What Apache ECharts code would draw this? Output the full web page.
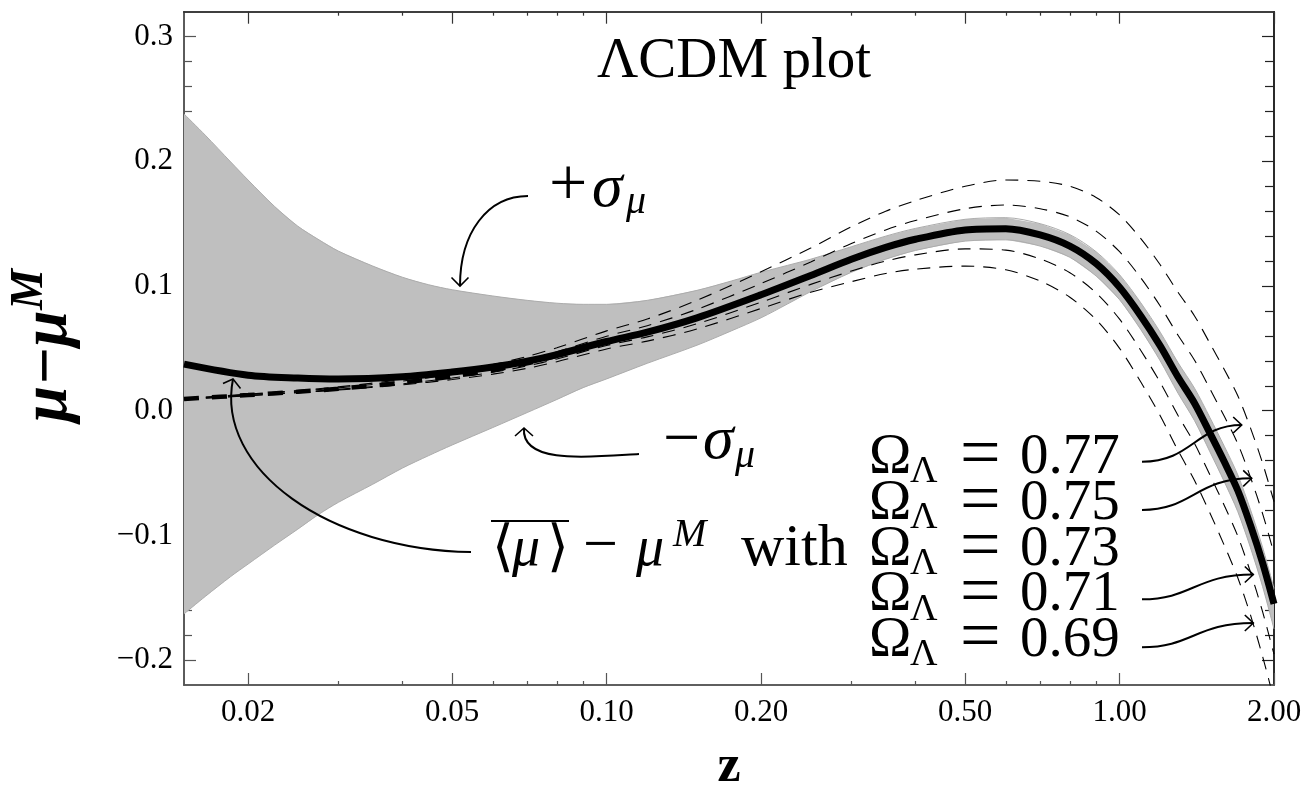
<!DOCTYPE html>
<html>
<head>
<meta charset="utf-8">
<title>LCDM plot</title>
<script src="https://cdn.jsdelivr.net/npm/echarts@6/dist/echarts.min.js"></script>
<style>
html,body{margin:0;padding:0;background:#fff;}
#main{width:1309px;height:789px;}
</style>
</head>
<body>
<div id="main"></div>
<script>
// redshift grid for the model curves
var zVals = [0.015, 0.02, 0.025, 0.03, 0.04, 0.05, 0.06, 0.07, 0.08, 0.1, 0.12, 0.15, 0.2, 0.25, 0.3, 0.35, 0.4, 0.5, 0.6, 0.7, 0.8, 0.9, 1.0, 1.1, 1.2, 1.3, 1.4, 1.5, 1.6, 1.7, 1.8, 1.9, 2.0];

// <mu> - mu^M (thick solid line)
var meanCurve = [0.0374, 0.0285, 0.0262, 0.0254, 0.0272, 0.0310, 0.0350, 0.0397, 0.0450, 0.0555, 0.0630, 0.0745, 0.0930, 0.1085, 0.1215, 0.1310, 0.1375, 0.1450, 0.1460, 0.1410, 0.1320, 0.1180, 0.0990, 0.0760, 0.0520, 0.0270, 0.0060, -0.0180, -0.0410, -0.0640, -0.0920, -0.1220, -0.1550];

// +sigma / -sigma edges of the grey band (denser at low z)
var bandZ = [0.015, 0.0165, 0.0185, 0.02, 0.0225, 0.025, 0.0275, 0.03, 0.035, 0.04, 0.045, 0.05, 0.06, 0.07, 0.08, 0.09, 0.1, 0.12, 0.15, 0.175, 0.2, 0.225, 0.25, 0.3, 0.35, 0.4, 0.5, 0.6, 0.7, 0.8, 0.9, 1.0, 1.1, 1.2, 1.3, 1.4, 1.5, 1.6, 1.7, 1.8, 1.9, 2.0];
var bandUpper = [0.238, 0.221, 0.1995, 0.185, 0.164, 0.148, 0.137, 0.128, 0.116, 0.107, 0.101, 0.097, 0.092, 0.0885, 0.0862, 0.0853, 0.0853, 0.0885, 0.0965, 0.104, 0.111, 0.1165, 0.1215, 0.1315, 0.1400, 0.1462, 0.1535, 0.1548, 0.1500, 0.1412, 0.1275, 0.1090, 0.0865, 0.0630, 0.0385, 0.0180, -0.0055, -0.0285, -0.0515, -0.0795, -0.1095, -0.1425];
var bandLower = [-0.163, -0.149, -0.133, -0.123, -0.108, -0.095, -0.083, -0.0735, -0.059, -0.046, -0.036, -0.0275, -0.0135, -0.0015, 0.009, 0.0185, 0.0255, 0.038, 0.0525, 0.064, 0.0745, 0.0855, 0.0955, 0.1110, 0.1215, 0.1285, 0.1360, 0.1370, 0.1320, 0.1230, 0.1080, 0.0890, 0.0650, 0.0400, 0.0140, -0.0080, -0.0330, -0.0570, -0.0810, -0.1100, -0.1410, -0.1750];

// Omega_L = 0.73 model at low z (thick dashed)
var thickZ = [0.015, 0.02, 0.025, 0.03, 0.04, 0.05, 0.06, 0.07, 0.08];
var thickDash = [0.0094, 0.0125, 0.0152, 0.0176, 0.0225, 0.0275, 0.0325, 0.0380, 0.0440];

// models with other Omega_L (thin dashed)
var omega077 = [0.0099, 0.0133, 0.0162, 0.0191, 0.0250, 0.0310, 0.0370, 0.0435, 0.0505, 0.0640, 0.0735, 0.0885, 0.1115, 0.1305, 0.1475, 0.1600, 0.1685, 0.1800, 0.1850, 0.1840, 0.1800, 0.1710, 0.1570, 0.1380, 0.1170, 0.0950, 0.0760, 0.0540, 0.0330, 0.0120, -0.0140, -0.0420, -0.0730];
var omega075 = [0.0096, 0.0129, 0.0157, 0.0183, 0.0237, 0.0292, 0.0347, 0.0407, 0.0472, 0.0597, 0.0682, 0.0813, 0.1020, 0.1193, 0.1341, 0.1450, 0.1525, 0.1620, 0.1650, 0.1620, 0.1555, 0.1440, 0.1275, 0.1065, 0.0840, 0.0605, 0.0405, 0.0175, -0.0045, -0.0265, -0.0535, -0.0825, -0.1145];
var omega071 = [0.0092, 0.0122, 0.0148, 0.0171, 0.0216, 0.0262, 0.0308, 0.0359, 0.0415, 0.0523, 0.0592, 0.0697, 0.0870, 0.1013, 0.1120, 0.1200, 0.1250, 0.1298, 0.1288, 0.1217, 0.1106, 0.0945, 0.0734, 0.0483, 0.0227, -0.0038, -0.0264, -0.0515, -0.0760, -0.1006, -0.1296, -0.1612, -0.1953];
var omega069 = [0.0090, 0.0119, 0.0144, 0.0166, 0.0207, 0.0250, 0.0293, 0.0340, 0.0393, 0.0495, 0.0558, 0.0655, 0.0820, 0.0950, 0.1035, 0.1100, 0.1135, 0.1160, 0.1130, 0.1040, 0.0910, 0.0730, 0.0500, 0.0230, -0.0040, -0.0320, -0.0560, -0.0820, -0.1080, -0.1340, -0.1640, -0.1970, -0.2320];
var omegaNames = ['0.77', '0.75', '0.73', '0.71', '0.69'];

// ticks
var xMajorTicks = [0.02, 0.05, 0.1, 0.2, 0.5, 1, 2];
var xMinorTicks = [0.03, 0.04, 0.06, 0.07, 0.08, 0.09, 0.3, 0.4, 0.6, 0.7, 0.8, 0.9];
var yMajorTicks = [-0.2, -0.1, 0, 0.1, 0.2, 0.3];
var yMinorTicks = [-0.18, -0.16, -0.14, -0.12, -0.08, -0.06, -0.04, -0.02, 0.02, 0.04, 0.06, 0.08, 0.12, 0.14, 0.16, 0.18, 0.22, 0.24, 0.26, 0.28];

var serifFont = '"Liberation Serif", "DejaVu Serif", serif';

function pairs(xs, ys){
	var out = [];
	for(var i=0;i<xs.length;i++){
		out.push([xs[i], ys[i]]);
	}
	return out;
}

/***axes***/
function xAxisCfg(pos, ticks, len, showLabel, color){
	return {
		type:'log', logBase:10, min:0.015, max:2, position:pos,
		axisLine:{show:true, onZero:false, lineStyle:{color:color, width:1.6}},
		axisTick:{show:true, inside:true, length:len, customValues:ticks, lineStyle:{color:color, width:1.2}},
		axisLabel:{show:showLabel, customValues:ticks, margin:12, color:'#000', fontSize:31, fontFamily:serifFont,
			formatter:function(v){ return (+v).toFixed(2); }},
		splitLine:{show:false}, minorTick:{show:false}
	};
}

function yAxisCfg(pos, ticks, len, showLabel, color){
	return {
		type:'value', min:-0.22, max:0.32, position:pos,
		axisLine:{show:true, onZero:false, lineStyle:{color:color, width:1.6}},
		axisTick:{show:true, inside:true, length:len, customValues:ticks, lineStyle:{color:color, width:1.2}},
		axisLabel:{show:showLabel, customValues:ticks, margin:11, color:'#000', fontSize:31, fontFamily:serifFont,
			formatter:function(v){
				if(Math.abs(v) < 1e-9){ return '0.0'; }
				return (+v).toFixed(1).replace('-', '\u2212');
			}},
		splitLine:{show:false}
	};
}

/***annotations***/
// text placed on its baseline
function txt(x, base, str, size, opt){
	opt = opt || {};
	return {
		type:'text', x:x, y:base - 0.3375*size, z:100, silent:true,
		style:{
			text:str, fill:'#000', fontFamily:serifFont, fontSize:size,
			fontStyle:opt.italic ? 'italic' : 'normal', fontWeight:opt.bold ? 'bold' : 'normal',
			align:opt.align || 'left', verticalAlign:'middle',
			textAlign:opt.align || 'left', textVerticalAlign:'middle'
		}
	};
}

function arrow(p0, c1, c2, p3, legA, legB){
	return [{
		type:'bezierCurve', z:90, silent:true,
		shape:{x1:p0[0], y1:p0[1], cpx1:c1[0], cpy1:c1[1], cpx2:c2[0], cpy2:c2[1], x2:p3[0], y2:p3[1]},
		style:{stroke:'#000', lineWidth:2, fill:'none'}
	},{
		type:'polyline', z:90, silent:true,
		shape:{points:[legA, p3, legB]},
		style:{stroke:'#000', lineWidth:1.6, fill:'none'}
	}];
}

function buildGraphic(){
	var g = [];
	g.push(txt(597, 81.7, '\u039bCDM plot', 57));

	// +sigma_mu
	g.push(txt(549, 210, '+', 68));
	g.push(txt(592, 211, '\u03c3', 62, {italic:true}));
	g.push(txt(626, 216, '\u03bc', 40, {italic:true}));
	g = g.concat(arrow([528,196],[488,196],[460,232],[460,286],[451.5,277.5],[468.5,277.5]));

	// -sigma_mu
	g.push(txt(663, 464, '\u2212', 66));
	g.push(txt(703, 463, '\u03c3', 62, {italic:true}));
	g.push(txt(735, 470, '\u03bc', 40, {italic:true}));
	g = g.concat(arrow([639,454],[590,457],[521,465],[524,428],[515,436],[533,436]));

	// mean label line
	var b = 569;
	g.push(txt(492, b, '\u27e8', 56));
	g.push(txt(512, b, '\u03bc', 56, {italic:true}));
	g.push(txt(547, b, '\u27e9', 56));
	g.push({type:'line', z:100, silent:true, shape:{x1:491, y1:521, x2:569, y2:521}, style:{stroke:'#000', lineWidth:2.2}});
	g.push(txt(583, b, '\u2212', 62));
	g.push(txt(636, b, '\u03bc', 56, {italic:true}));
	g.push(txt(673, 549, 'M', 40, {italic:true}));
	g.push(txt(741, b, 'with', 60));
	g = g.concat(arrow([471,552],[330,550],[215,470],[233,379],[223,383.5],[240.5,388.5]));

	// Omega_Lambda labels
	var bases = [477, 523, 569, 614.5, 660];
	var tips = [[1241.7,425],[1251.7,478.3],null,[1253.3,574.5],[1253.3,623]];
	var starts = [461.7, 510, null, 599.3, 647.3];
	for(var i=0;i<omegaNames.length;i++){
		var y = bases[i];
		g.push(txt(869, y, '\u03a9', 57));
		g.push(txt(910, y+8, '\u039b', 38));
		g.push(txt(960, y+4.5, '=', 72));
		g.push(txt(1020, y, omegaNames[i], 57));
		if(tips[i]){
			var t = tips[i];
			g = g.concat(arrow([1142,starts[i]],[1192,starts[i]],[1196,t[1]],t,[t[0]-8.5,t[1]-8],[t[0]-8.5,t[1]+8]));
		}
	}

	// axis titles
	g.push({
		type:'group', x:71, y:422, rotation:Math.PI/2, silent:true,
		children:[
			txt(0, 0, '\u03bc\u2212\u03bc', 65, {italic:true, bold:true}),
			txt(112, -25, 'M', 46, {italic:true, bold:true})
		]
	});
	g.push(txt(729, 785, 'z', 52, {bold:true, align:'center'}));
	return g;
}

function lineSeries(name, data, width, type, color, z){
	return {
		name:name, type:'line', data:data, xAxisIndex:0, yAxisIndex:0,
		symbol:'none', smooth:0.3, z:z, silent:true,
		lineStyle:{color:color, width:width, type:type}
	};
}

// grey sigma band, filled between the two edges
function bandItem(params, api){
	if(params.dataIndex !== 0){
		return;
	}
	var pts = [];
	var i;
	for(i=0;i<bandZ.length;i++){
		pts.push(api.coord([bandZ[i], bandUpper[i]]));
	}
	for(i=bandZ.length-1;i>=0;i--){
		pts.push(api.coord([bandZ[i], bandLower[i]]));
	}
	return {
		type:'polygon', shape:{points:pts},
		style:{fill:'#bfbfbf', stroke:null}
	};
}

var chart = echarts.init(document.getElementById('main'), null, {renderer:'canvas'});
var option = {
	animation:false,
	backgroundColor:'#fff',
	grid:{left:184, top:11.7, width:1090, height:673.3, outerBoundsMode:'none', containLabel:false},
	xAxis:[
		xAxisCfg('bottom', xMajorTicks, 12, true, '#555'),
		xAxisCfg('bottom', xMinorTicks, 4, false, '#555'),
		xAxisCfg('top', xMajorTicks, 12, false, '#333'),
		xAxisCfg('top', xMinorTicks, 4, false, '#333')
	],
	yAxis:[
		yAxisCfg('left', yMajorTicks, 12, true, '#555'),
		yAxisCfg('left', yMinorTicks, 8, false, '#555'),
		yAxisCfg('right', yMajorTicks, 12, false, '#222'),
		yAxisCfg('right', yMinorTicks, 9, false, '#222')
	],
	series:[
		{
			name:'sigma band', type:'custom', xAxisIndex:0, yAxisIndex:0, z:1, silent:true, clip:true,
			data:pairs(bandZ, bandUpper), renderItem:bandItem
		},
		lineSeries('upper', pairs(bandZ, bandUpper), 1, 'solid', '#acacac', 1),
		lineSeries('lower', pairs(bandZ, bandLower), 1, 'solid', '#acacac', 1),
		lineSeries('0.77', pairs(zVals, omega077), 1.1, [13, 9], '#000', 2),
		lineSeries('0.75', pairs(zVals, omega075), 1.1, [13, 9], '#000', 2),
		lineSeries('0.71', pairs(zVals, omega071), 1.1, [13, 9], '#000', 2),
		lineSeries('0.69', pairs(zVals, omega069), 1.1, [13, 9], '#000', 2),
		lineSeries('0.73 model', pairs(thickZ, thickDash), 4.5, [15, 13], '#000', 3),
		lineSeries('mean', pairs(zVals, meanCurve), 7, 'solid', '#000', 4)
	],
	graphic:buildGraphic()
};
chart.setOption(option);
</script>
</body>
</html>
